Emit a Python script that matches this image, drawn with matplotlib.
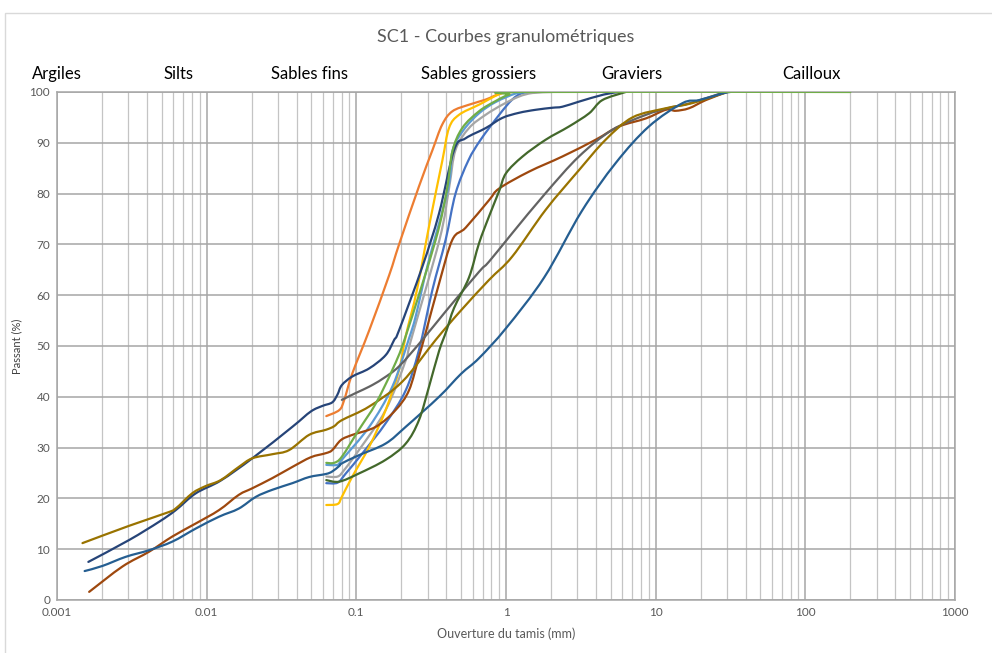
import matplotlib
matplotlib.use("Agg")
import numpy as np
import matplotlib.pyplot as plt
from matplotlib.ticker import FixedLocator, LogLocator, FuncFormatter, NullFormatter
from matplotlib.patches import Rectangle, PathPatch
from matplotlib.path import Path

plt.rcParams['font.family'] = ['Lato', 'DejaVu Sans']

# ---------------- data (sieve opening in mm, % passing) ----------------
blue_mm = [0.063, 0.075, 0.085, 0.11, 0.157, 0.214, 0.262, 0.322, 0.395, 0.46, 0.56, 0.677, 0.9, 1.1, 1.29, 1.6]
blue_pct = [23.0, 23.1, 24.9, 28.9, 34.8, 41.3, 49.2, 61.0, 70.9, 80.0, 86.5, 90.6, 95.5, 98.5, 99.8, 100]

orange_mm = [0.063, 0.077, 0.083, 0.094, 0.122, 0.166, 0.193, 0.262, 0.322, 0.375, 0.438, 0.566, 0.73, 0.945, 1.25]
orange_pct = [36.2, 37.4, 39.4, 44.6, 53.1, 64.0, 70.0, 81.4, 88.5, 93.6, 96.2, 97.5, 98.5, 99.8, 100]

gray_mm = [0.063, 0.075, 0.083, 0.104, 0.157, 0.214, 0.232, 0.36, 0.416, 0.46, 0.566, 0.73, 0.945, 1.22, 1.5, 2.0]
gray_pct = [24.3, 24.3, 25.6, 29.5, 37.4, 47.2, 51.2, 71.0, 81.0, 88.6, 92.9, 95.5, 97.5, 99.1, 99.8, 100]

gold_mm = [0.063, 0.075, 0.080, 0.094, 0.122, 0.157, 0.193, 0.214, 0.254, 0.309, 0.375, 0.416, 0.485, 0.66, 0.945, 1.25]
gold_pct = [18.7, 18.9, 20.3, 24.3, 30.2, 37.4, 45.3, 52.0, 61.0, 74.2, 86.4, 92.9, 95.5, 97.5, 99.8, 100]

lblue_mm = [0.063, 0.075, 0.080, 0.122, 0.174, 0.225, 0.25, 0.30, 0.41, 0.44, 0.52, 0.66, 0.85, 1.16, 1.4]
lblue_pct = [26.6, 26.6, 27.6, 34.1, 42.0, 51.5, 56.0, 66.0, 81.0, 88.5, 92.5, 95.8, 98.0, 99.7, 100]

green_mm = [0.063, 0.071, 0.080, 0.104, 0.135, 0.174, 0.214, 0.339, 0.404, 0.438, 0.51, 0.66, 0.85, 1.05, 1.3, 200]
green_pct = [27.0, 27.0, 28.2, 33.5, 38.7, 45.3, 52.0, 70.9, 81.0, 88.3, 92.9, 96.2, 98.2, 99.5, 100, 100]

dblue_mm = [0.00162, 0.00303, 0.00481, 0.00622, 0.00846, 0.0124, 0.0202, 0.0374, 0.0496, 0.0593, 0.069,
            0.0747, 0.080, 0.094, 0.122, 0.157, 0.179, 0.193, 0.276, 0.357, 0.45, 0.538, 0.732, 0.945,
            1.22, 1.58, 2.04, 2.38, 3.07, 4.5, 5.7]
dblue_pct = [7.5, 11.8, 15.4, 17.7, 21.0, 23.5, 27.9, 34.1, 37.1, 38.2, 38.9,
             40.4, 42.3, 44.0, 45.6, 48.2, 51.2, 53.1, 65.6, 76.1, 88.6, 90.9, 92.9, 94.9,
             95.9, 96.5, 96.9, 97.1, 98.1, 99.5, 100]

brown_mm = [0.00164, 0.00274, 0.00412, 0.0059, 0.0085, 0.0121, 0.0164, 0.0202, 0.0275, 0.0374, 0.0496,
            0.0625, 0.069, 0.079, 0.094, 0.135, 0.183, 0.225, 0.262, 0.29, 0.357, 0.438, 0.538, 0.77,
            0.9, 1.42, 2.38, 3.97, 5.68, 8.6, 11.7, 13.6, 16.7, 21.6, 30]
brown_pct = [1.6, 6.6, 9.5, 12.5, 15.1, 17.7, 20.7, 22.0, 24.0, 26.2, 28.1,
             28.9, 29.5, 31.5, 32.5, 34.1, 37.4, 41.3, 47.9, 52.5, 62.3, 70.9, 73.3, 78.7,
             81.0, 84.3, 87.3, 90.6, 93.2, 94.8, 96.5, 96.3, 96.8, 98.4, 100]

dgray_mm = [0.080, 0.1, 0.122, 0.149, 0.193, 0.276, 0.4, 0.66, 0.77, 1.1, 1.84, 3.07, 5.1, 8.6, 12, 17, 29]
dgray_pct = [39.4, 40.8, 42.0, 43.5, 46.0, 51.2, 57.0, 64.6, 66.6, 72.2, 80.1, 87.3, 92.5, 95.5, 96.8, 97.8, 100]

dgold_mm = [0.00148, 0.00303, 0.00533, 0.0062, 0.0080, 0.0098, 0.0124, 0.0164, 0.0202, 0.0275, 0.0355,
            0.0483, 0.0625, 0.071, 0.080, 0.122, 0.203, 0.339, 0.5, 0.77, 1.10, 1.84, 3.07, 4.63, 7.0,
            11.7, 17.5, 30]
dgold_pct = [11.2, 14.6, 17.1, 18.0, 21.0, 22.4, 23.6, 26.2, 27.9, 28.7, 29.5,
             32.5, 33.5, 34.2, 35.4, 38.1, 43.0, 51.2, 57.0, 63.0, 67.6, 76.8, 84.6, 90.6, 95.0,
             96.8, 97.8, 100]

sblue_mm = [0.00153, 0.00201, 0.00288, 0.00412, 0.0059, 0.0085, 0.0121, 0.0164, 0.0213, 0.0275, 0.0374,
            0.0483, 0.0625, 0.069, 0.077, 0.08, 0.104, 0.157, 0.214, 0.357, 0.5, 0.66, 1.0, 1.8, 3.2,
            5.4, 9.0, 15.1, 19.5, 27.8, 31.5]
sblue_pct = [5.7, 6.7, 8.5, 9.8, 11.5, 14.1, 16.4, 18.0, 20.3, 21.7, 23.0,
             24.2, 24.8, 25.3, 26.4, 26.9, 28.5, 30.8, 34.1, 40.0, 44.5, 47.6, 53.5, 63.5, 76.5,
             86.0, 93.2, 97.8, 98.4, 99.7, 100]

dgreen_mm = [0.063, 0.077, 0.104, 0.157, 0.214, 0.262, 0.306, 0.357, 0.40, 0.45, 0.566, 0.66, 0.77, 0.9,
             1.0, 1.29, 1.84, 2.63, 3.59, 4.4, 6.3]
dgreen_pct = [23.6, 23.3, 24.9, 27.6, 30.8, 35.4, 42.0, 49.0, 53.0, 57.5, 63.5, 70.2, 75.5, 80.5,
              84.0, 87.3, 90.6, 93.2, 95.8, 98.4, 100]

zone_names = ["Argiles", "Silts", "Sables fins", "Sables grossiers", "Graviers", "Cailloux"]

x_ticks = [0.001, 0.01, 0.1, 1, 10, 100, 1000]
y_ticks = [0, 10, 20, 30, 40, 50, 60, 70, 80, 90, 100]


def smooth_path(xs, ys):
    """Excel-like smoothed line: cubic Bezier segments through the data points
    (control points built in log-x space, so the curve follows the log axis)."""
    lx = np.log10(np.asarray(xs, float))
    y = np.asarray(ys, float)
    n = len(lx)
    verts = [(xs[0], ys[0])]
    codes = [Path.MOVETO]
    for i in range(n - 1):
        i0 = max(i - 1, 0)
        i3 = min(i + 2, n - 1)
        c1x = lx[i] + (lx[i + 1] - lx[i0]) / 6.0
        c1y = y[i] + (y[i + 1] - y[i0]) / 6.0
        c2x = lx[i + 1] - (lx[i3] - lx[i]) / 6.0
        c2y = y[i + 1] - (y[i3] - y[i]) / 6.0
        verts += [(10 ** c1x, c1y), (10 ** c2x, c2y), (xs[i + 1], ys[i + 1])]
        codes += [Path.CURVE4] * 3
    return Path(verts, codes)


# ---------------- figure ----------------
fig = plt.figure(figsize=(9.92, 6.53), dpi=100)
fig.patches.append(Rectangle((5 / 992, -0.05), 1.2, 1 - 13 / 653 + 0.05, transform=fig.transFigure,
                             fill=False, edgecolor='#D9D9D9', linewidth=1.0))
ax = fig.add_axes([57 / 992, 53 / 653, 898 / 992, 508 / 653])

ax.set_xscale('log')
ax.set_xlim(0.001, 1000)
ax.set_ylim(0, 100)

series = [
    (blue_mm, blue_pct, '#4472C4', 2),
    (orange_mm, orange_pct, '#ED7D31', 2),
    (gray_mm, gray_pct, '#A5A5A5', 2),
    (gold_mm, gold_pct, '#FFC000', 2),
    (lblue_mm, lblue_pct, '#5B9BD5', 2),
    (dblue_mm, dblue_pct, '#264478', 2),
    (brown_mm, brown_pct, '#9E480E', 2),
    (dgray_mm, dgray_pct, '#636363', 2),
    (dgold_mm, dgold_pct, '#997300', 2),
    (sblue_mm, sblue_pct, '#255E91', 2),
    (dgreen_mm, dgreen_pct, '#43682B', 2),
    (green_mm, green_pct, '#70AD47', 3),
]
for xs, ys, col, z in series:
    ax.add_patch(PathPatch(smooth_path(xs, ys), fill=False, edgecolor=col, lw=1.6, zorder=z,
                           capstyle='round', joinstyle='round'))

ax.xaxis.set_major_locator(FixedLocator(x_ticks))
ax.xaxis.set_minor_locator(LogLocator(base=10, subs=range(2, 10), numticks=50))
ax.xaxis.set_minor_formatter(NullFormatter())
ax.xaxis.set_major_formatter(FuncFormatter(lambda v, p: '{:g}'.format(v)))
ax.yaxis.set_major_locator(FixedLocator(y_ticks))

ax.grid(which='major', color='#A6A6A6', lw=1.1, zorder=0)
ax.grid(which='minor', axis='x', color='#C4C4C4', lw=0.9, zorder=0)
ax.set_axisbelow(True)
for s in ax.spines.values():
    s.set_color('#A6A6A6')
    s.set_linewidth(1.1)
ax.tick_params(which='both', length=0, labelsize=8.5, labelcolor='#595959', pad=5)

ax.set_xlabel('Ouverture du tamis (mm)', fontsize=9, color='#595959', labelpad=7)
ax.set_ylabel('Passant (%)', fontsize=8, color='#404040', labelpad=5)

fig.text(506 / 992, 1 - 37 / 653, 'SC1 - Courbes granulométriques', ha='center', va='center',
         fontsize=13, color='#595959')

zone_x = [0.001, 0.0065, 0.049, 0.66, 6.95, 110]
for name, zx in zip(zone_names, zone_x):
    ax.text(zx, 1.035, name, transform=ax.get_xaxis_transform(), ha='center', va='center',
            fontsize=12, color='black')

fig.savefig('out.png', dpi=100)
